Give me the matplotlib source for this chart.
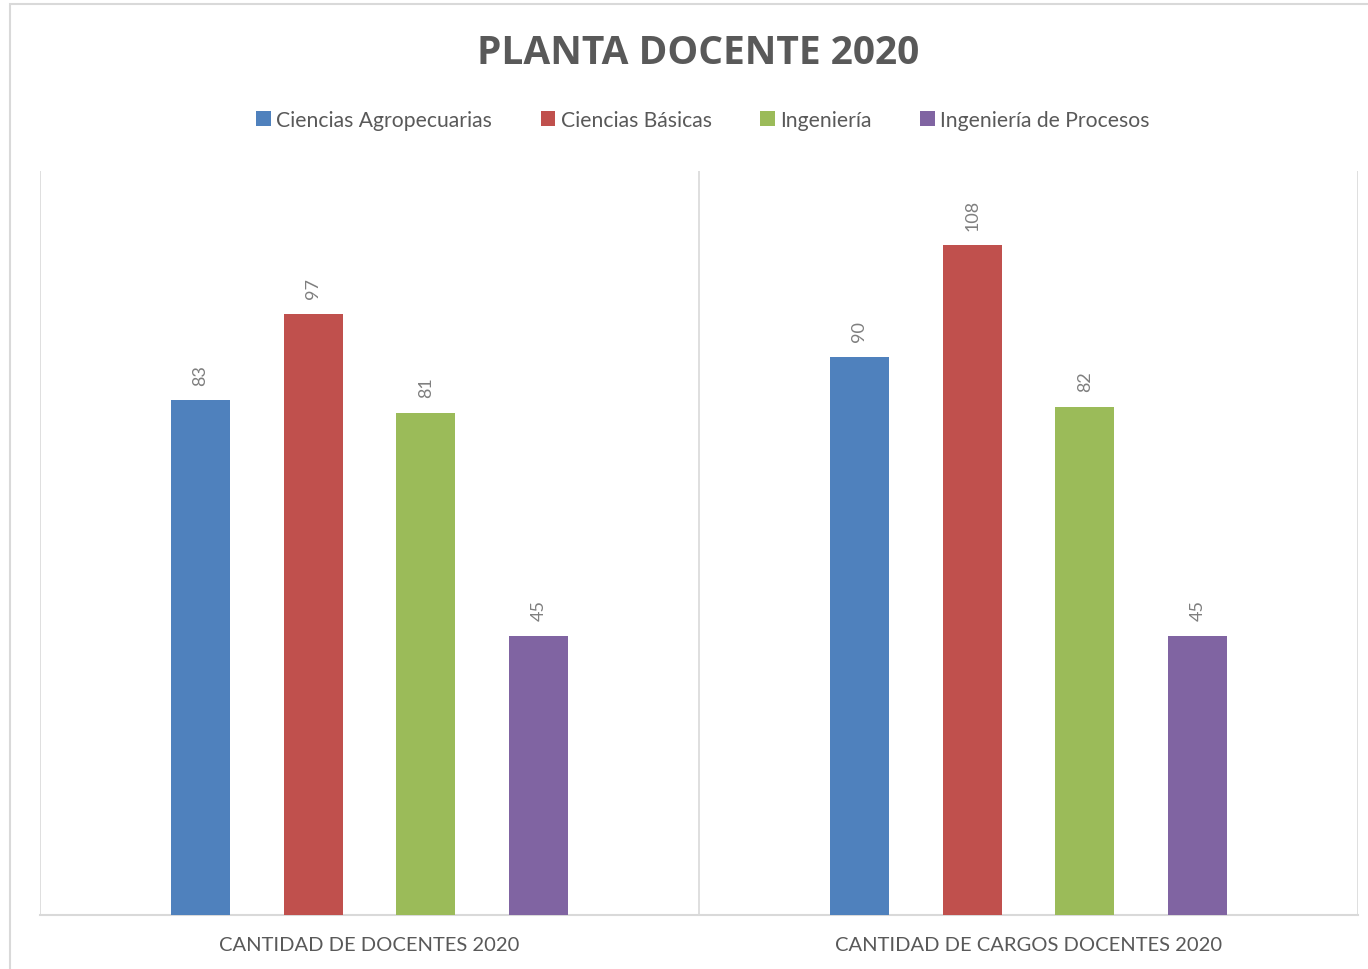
import numpy as np
import matplotlib.pyplot as plt
from matplotlib.patches import Rectangle

# datos del grafico
categorias = ["CANTIDAD DE DOCENTES 2020", "CANTIDAD DE CARGOS DOCENTES 2020"]
series = ["Ciencias Agropecuarias", "Ciencias Básicas", "Ingeniería", "Ingeniería de Procesos"]
agropecuarias = [83, 90]
basicas = [97, 108]
ingenieria = [81, 82]
procesos = [45, 45]
colores = ["#4F81BD", "#C0504D", "#9BBB59", "#8064A2"]

plt.rcParams['font.family'] = ['Lato', 'DejaVu Sans']

fig = plt.figure(figsize=(13.68, 9.70), dpi=100)
# marco exterior del grafico
fig.patches.append(Rectangle((10/1368, -0.01), 1.05, 1 - 5/970 + 0.01,
                             transform=fig.transFigure, fill=False,
                             edgecolor="#D9D9D9", linewidth=1.5))

ax = fig.add_axes([40/1368, 54/970, 1318/1368, 744/970])
x = np.arange(len(categorias))
paso = 0.171
ancho = 0.09
valores = [agropecuarias, basicas, ingenieria, procesos]
for i, (nombre, vals) in enumerate(zip(series, valores)):
    pos = x + (i - 1.5) * paso
    barras = ax.bar(pos, vals, ancho, color=colores[i], label=nombre, zorder=3)
    for b, v in zip(barras, vals):
        ax.text(b.get_x() + b.get_width()/2, v + 2.5, str(v), rotation=90,
                ha='center', va='bottom', fontsize=13, color="#7F7F7F")

ax.set_xlim(-0.5, 1.5)
ax.set_ylim(0, 120)
ax.set_yticks([])
ax.set_xticks(x)
ax.set_xticklabels(categorias, fontsize=14.5, color="#595959")
ax.tick_params(axis='x', length=0, pad=15)
for s in ['top', 'right', 'left']:
    ax.spines[s].set_visible(False)
ax.spines['bottom'].set_color("#D9D9D9")
ax.spines['bottom'].set_linewidth(1.5)
for xv in [-0.5, 0.5, 1.5]:
    ax.axvline(xv, color="#D9D9D9", linewidth=1.2, zorder=1)

fig.text(698/1368, 1 - 53/970, "PLANTA DOCENTE 2020", ha='center', va='center',
         fontsize=28, fontweight='bold', color="#595959",
         family=['Open Sans', 'DejaVu Sans'])
fig.legend(loc='center', bbox_to_anchor=(703/1368, 1 - 121/970), ncol=4,
           frameon=False, fontsize=15.2, handlelength=0.7, handleheight=0.7,
           handletextpad=0.25, columnspacing=2.3, labelcolor="#595959")

fig.savefig("out.png", dpi=100)
